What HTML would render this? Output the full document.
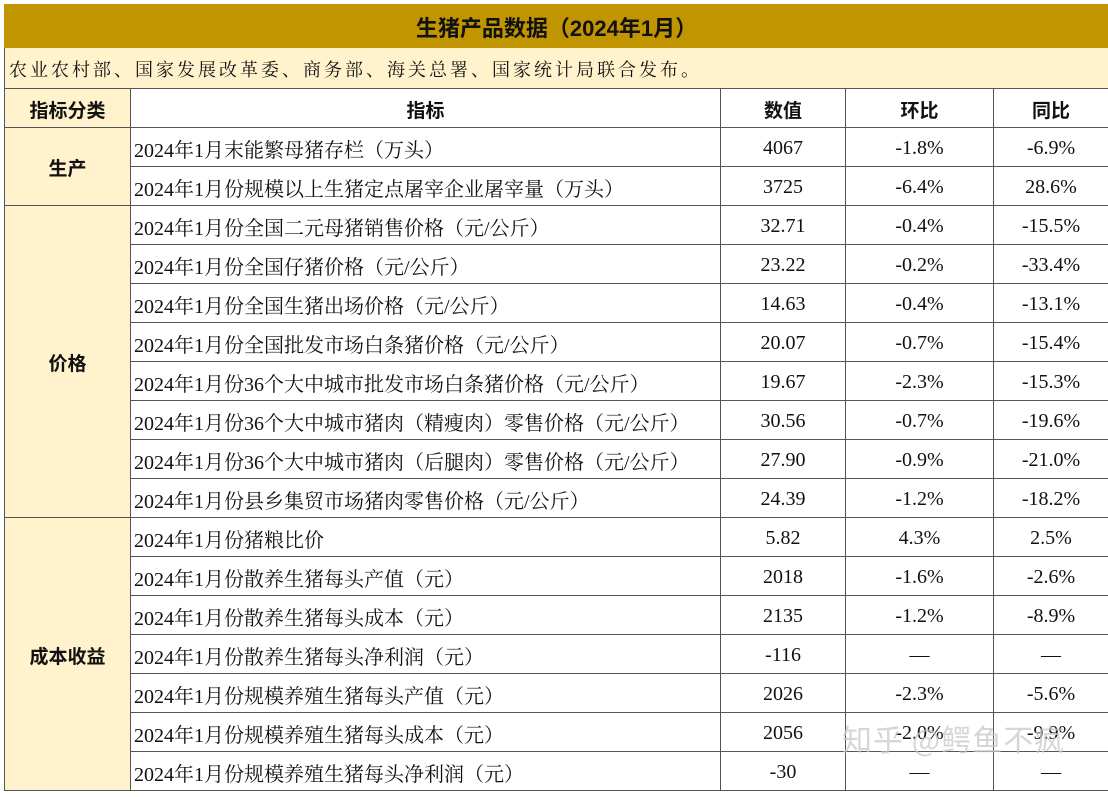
<!DOCTYPE html>
<html><head><meta charset="utf-8"><style>
html,body{margin:0;padding:0;background:#fff;width:1108px;height:797px;overflow:hidden}
table{position:absolute;left:4px;top:4px;border-collapse:collapse;table-layout:fixed;width:1104px;font-family:"Liberation Serif","Noto Serif CJK SC",serif;font-size:20px;color:#111}
td{border:1px solid #555;padding:2px 0 0 0;height:36px;text-align:center;white-space:nowrap;overflow:hidden}
td.ind{text-align:left;padding-left:3px}
.title td{background:#C19500;height:40px;font-family:"Liberation Sans","Noto Sans CJK SC",sans-serif;font-weight:bold;font-size:22px;border-color:#C19500}
.sub td{background:#FFF2CC;height:38px;text-align:left;padding-left:4px;font-size:18px;letter-spacing:3px;font-family:"Liberation Serif","Noto Serif CJK SC",serif}
.hd td{font-family:"Liberation Sans","Noto Sans CJK SC",sans-serif;font-weight:bold;font-size:19px}
td.cat{background:#FFF2CC;font-family:"Liberation Sans","Noto Sans CJK SC",sans-serif;font-weight:bold;font-size:19px}
.wm{position:absolute;left:842px;top:716px;font-family:"Noto Sans CJK SC",sans-serif;font-size:30px;color:rgba(200,200,200,0.75);letter-spacing:1px}
</style></head><body>
<table>
<colgroup><col style="width:126px"><col style="width:590px"><col style="width:125px"><col style="width:148px"><col style="width:115px"></colgroup>
<tr class="title"><td colspan="5">生猪产品数据（2024年1月）</td></tr>
<tr class="sub"><td colspan="5">农业农村部、国家发展改革委、商务部、海关总署、国家统计局联合发布。</td></tr>
<tr class="hd"><td class="cat">指标分类</td><td>指标</td><td>数值</td><td>环比</td><td>同比</td></tr>
<tr><td class="cat" rowspan="2">生产</td><td class="ind">2024年1月末能繁母猪存栏（万头）</td><td>4067</td><td>-1.8%</td><td>-6.9%</td></tr>
<tr><td class="ind">2024年1月份规模以上生猪定点屠宰企业屠宰量（万头）</td><td>3725</td><td>-6.4%</td><td>28.6%</td></tr>
<tr><td class="cat" rowspan="8">价格</td><td class="ind">2024年1月份全国二元母猪销售价格（元/公斤）</td><td>32.71</td><td>-0.4%</td><td>-15.5%</td></tr>
<tr><td class="ind">2024年1月份全国仔猪价格（元/公斤）</td><td>23.22</td><td>-0.2%</td><td>-33.4%</td></tr>
<tr><td class="ind">2024年1月份全国生猪出场价格（元/公斤）</td><td>14.63</td><td>-0.4%</td><td>-13.1%</td></tr>
<tr><td class="ind">2024年1月份全国批发市场白条猪价格（元/公斤）</td><td>20.07</td><td>-0.7%</td><td>-15.4%</td></tr>
<tr><td class="ind">2024年1月份36个大中城市批发市场白条猪价格（元/公斤）</td><td>19.67</td><td>-2.3%</td><td>-15.3%</td></tr>
<tr><td class="ind">2024年1月份36个大中城市猪肉（精瘦肉）零售价格（元/公斤）</td><td>30.56</td><td>-0.7%</td><td>-19.6%</td></tr>
<tr><td class="ind">2024年1月份36个大中城市猪肉（后腿肉）零售价格（元/公斤）</td><td>27.90</td><td>-0.9%</td><td>-21.0%</td></tr>
<tr><td class="ind">2024年1月份县乡集贸市场猪肉零售价格（元/公斤）</td><td>24.39</td><td>-1.2%</td><td>-18.2%</td></tr>
<tr><td class="cat" rowspan="7">成本收益</td><td class="ind">2024年1月份猪粮比价</td><td>5.82</td><td>4.3%</td><td>2.5%</td></tr>
<tr><td class="ind">2024年1月份散养生猪每头产值（元）</td><td>2018</td><td>-1.6%</td><td>-2.6%</td></tr>
<tr><td class="ind">2024年1月份散养生猪每头成本（元）</td><td>2135</td><td>-1.2%</td><td>-8.9%</td></tr>
<tr><td class="ind">2024年1月份散养生猪每头净利润（元）</td><td>-116</td><td>—</td><td>—</td></tr>
<tr><td class="ind">2024年1月份规模养殖生猪每头产值（元）</td><td>2026</td><td>-2.3%</td><td>-5.6%</td></tr>
<tr><td class="ind">2024年1月份规模养殖生猪每头成本（元）</td><td>2056</td><td>-2.0%</td><td>-9.9%</td></tr>
<tr><td class="ind">2024年1月份规模养殖生猪每头净利润（元）</td><td>-30</td><td>—</td><td>—</td></tr>
</table>
<div class="wm">知乎 @鳄鱼不疯</div>
</body></html>
